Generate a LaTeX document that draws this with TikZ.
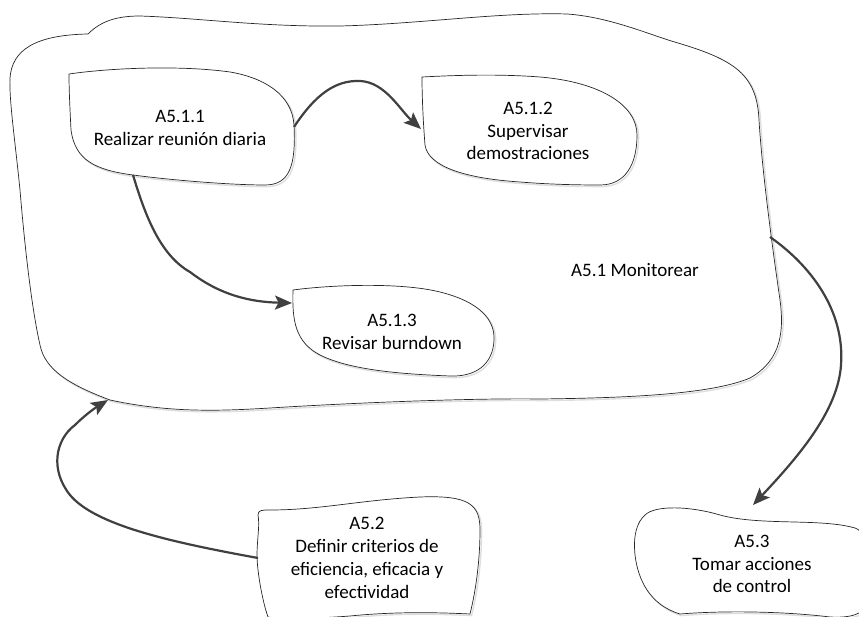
\documentclass[tikz,border=0pt]{standalone}
\usepackage{fontspec}
\setmainfont{Carlito}
\usetikzlibrary{arrows.meta}
\definecolor{linkgray}{HTML}{404040}
\tikzset{
  blob/.style={draw=black!85, line width=0.7pt, fill=white,
    preaction={draw=black!13, line width=1.4pt,
      transform canvas={shift={(1.6pt,-1.6pt)}}}},
  lbl/.style={align=center, inner sep=0pt,
    font=\fontsize{19}{22.8}\selectfont},
  link/.style={draw=linkgray, line width=2.2pt,
    -{Stealth[length=17pt,width=14pt,inset=3.5pt]}},
}
\begin{document}
\begin{tikzpicture}[x=1pt,y=-1pt]
\useasboundingbox (0,0) rectangle (859,617);
\begin{scope}
\clip (0,0) rectangle (859,617);

% A5.1 outer process
\path[blob] (88,34) .. controls (100,22) and (115,16) .. (140,16)
  .. controls (200,18) and (260,27) .. (340,26)
  .. controls (420,24) and (500,12) .. (567,14)
  .. controls (610,17) and (650,35) .. (678,43)
  .. controls (735,60) and (757,75) .. (759,120)
  .. controls (762,170) and (772,245) .. (780,300)
  .. controls (784,330) and (782,360) .. (750,378)
  .. controls (710,395) and (620,398) .. (540,399)
  .. controls (470,398) and (350,403) .. (270,408)
  .. controls (220,411) and (170,413) .. (110,400)
  .. controls (70,385) and (45,370) .. (40,345)
  .. controls (32,310) and (25,250) .. (20,190)
  .. controls (15,140) and (9,100) .. (10,78)
  .. controls (12,50) and (35,35) .. (88,34) -- cycle;

% A5.1.1
\path[blob] (69,74) .. controls (110,68) and (180,65) .. (230,72)
  .. controls (265,78) and (292,95) .. (294,125)
  .. controls (296,165) and (290,185) .. (265,185)
  .. controls (230,185) and (170,180) .. (133,175)
  .. controls (95,170) and (75,160) .. (71,130)
  .. controls (70,110) and (69,90) .. (69,74) -- cycle;

% A5.1.2
\path[blob] (422,77) .. controls (460,75) and (500,74) .. (540,77)
  .. controls (600,82) and (637,105) .. (637,135)
  .. controls (637,165) and (625,185) .. (600,185)
  .. controls (570,185) and (545,184) .. (520,182)
  .. controls (460,178) and (428,165) .. (425,145)
  .. controls (423,120) and (422,95) .. (422,77) -- cycle;

% A5.1.3
\path[blob] (293,290) .. controls (330,285) and (400,282) .. (440,292)
  .. controls (480,302) and (495,320) .. (494,340)
  .. controls (493,365) and (475,377) .. (450,376)
  .. controls (400,374) and (350,370) .. (320,355)
  .. controls (295,342) and (292,320) .. (293,290) -- cycle;

% A5.2
\path[blob] (258,515) .. controls (258,510) and (262,510) .. (270,510)
  .. controls (320,510) and (360,500) .. (420,497)
  .. controls (470,495) and (480,505) .. (480,530)
  .. controls (480,560) and (476,590) .. (470,614)
  .. controls (430,612) and (390,612) .. (350,616)
  .. controls (310,619) and (280,619) .. (268,617)
  .. controls (262,600) and (257,570) .. (257,555)
  .. controls (257,540) and (260,525) .. (258,515) -- cycle;

% A5.3
\path[blob] (645,515) .. controls (655,505) and (690,506) .. (720,515)
  .. controls (760,526) and (820,518) .. (855,528)
  .. controls (870,533) and (875,570) .. (870,600)
  .. controls (865,615) and (850,618) .. (830,617)
  .. controls (790,612) and (730,610) .. (680,614)
  .. controls (650,605) and (638,580) .. (635,555)
  .. controls (633,535) and (637,522) .. (645,515) -- cycle;
\end{scope}

% labels
\node[lbl] (a51)  at (635,270) {A5.1 Monitorear};
\node[lbl] (a511) at (180,128) {A5.1.1\\Realizar reunión diaria};
\node[lbl] (a512) at (528,131) {A5.1.2\\Supervisar\\demostraciones};
\node[lbl] (a513) at (392,332) {A5.1.3\\Revisar burndown};
\node[lbl] (a52)  at (367,558) {A5.2\\Definir criterios de\\eficiencia, eficacia y\\efectividad};
\node[lbl] (a53)  at (752,564) {A5.3\\Tomar acciones\\de control};

% attachment points on the outlines
\coordinate (p511r) at (294,127);
\coordinate (p511b) at (133,175);
\coordinate (p512l) at (421,129);
\coordinate (p513l) at (292,303);
\coordinate (p51r)  at (770,237);
\coordinate (p51b)  at (108,400);
\coordinate (p52l)  at (258,558);
\coordinate (p53t)  at (753,505);

% connectors
\draw[link] (p511r) .. controls (315,95) and (335,80) .. (360,81)
  .. controls (385,82) and (400,110) .. (p512l);
\draw[link] (p511b) .. controls (145,215) and (160,255) .. (190,272)
  .. controls (220,295) and (250,302) .. (p513l);
\draw[link] (p52l) .. controls (170,542) and (95,525) .. (70,495)
  .. controls (50,470) and (55,440) .. (75,425)
  .. controls (85,415) and (95,408) .. (p51b);
\draw[link] (p51r) .. controls (810,265) and (845,310) .. (841,365)
  .. controls (838,410) and (800,455) .. (p53t);
\end{tikzpicture}
\end{document}
